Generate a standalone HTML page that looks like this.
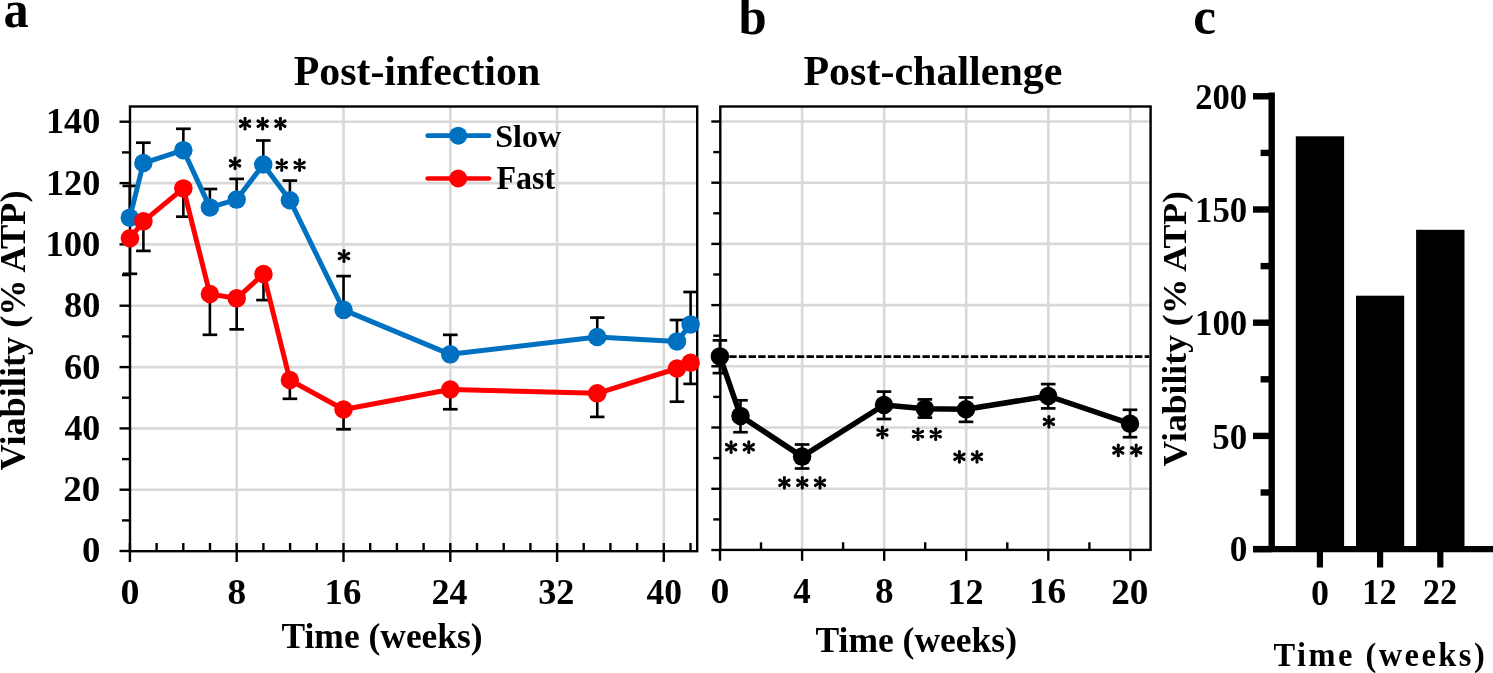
<!DOCTYPE html>
<html><head><meta charset="utf-8"><style>
html,body{margin:0;padding:0;background:#fff;width:1493px;height:673px;overflow:hidden}
svg{display:block;will-change:transform}
text{font-family:'Liberation Serif',serif;font-weight:bold;fill:#000}
</style></head><body>
<svg width="1493" height="673" viewBox="0 0 1493 673">
<defs><path id="ast" d="M1.000,0.000L1.600,-5.300A1.6,1.6 0 1 0 -1.600,-5.300L-1.000,-0.000ZM0.500,0.866L5.390,-1.264A1.6,1.6 0 1 0 3.790,-4.036L-0.500,-0.866ZM-0.500,0.866L3.790,4.036A1.6,1.6 0 1 0 5.390,1.264L0.500,-0.866ZM-1.000,0.000L-1.600,5.300A1.6,1.6 0 1 0 1.600,5.300L1.000,-0.000ZM-0.500,-0.866L-5.390,1.264A1.6,1.6 0 1 0 -3.790,4.036L0.500,0.866ZM0.500,-0.866L-3.790,-4.036A1.6,1.6 0 1 0 -5.390,-1.264L-0.500,0.866Z"/></defs>
<line x1="130" y1="489.7" x2="697.2" y2="489.7" stroke="#D9D9D9" stroke-width="2.6"/>
<line x1="130" y1="428.4" x2="697.2" y2="428.4" stroke="#D9D9D9" stroke-width="2.6"/>
<line x1="130" y1="367.1" x2="697.2" y2="367.1" stroke="#D9D9D9" stroke-width="2.6"/>
<line x1="130" y1="305.7" x2="697.2" y2="305.7" stroke="#D9D9D9" stroke-width="2.6"/>
<line x1="130" y1="244.4" x2="697.2" y2="244.4" stroke="#D9D9D9" stroke-width="2.6"/>
<line x1="130" y1="183.1" x2="697.2" y2="183.1" stroke="#D9D9D9" stroke-width="2.6"/>
<line x1="130" y1="121.7" x2="697.2" y2="121.7" stroke="#D9D9D9" stroke-width="2.6"/>
<line x1="236.7" y1="106.5" x2="236.7" y2="551.2" stroke="#D9D9D9" stroke-width="2.6"/>
<line x1="343.5" y1="106.5" x2="343.5" y2="551.2" stroke="#D9D9D9" stroke-width="2.6"/>
<line x1="450.3" y1="106.5" x2="450.3" y2="551.2" stroke="#D9D9D9" stroke-width="2.6"/>
<line x1="557.1" y1="106.5" x2="557.1" y2="551.2" stroke="#D9D9D9" stroke-width="2.6"/>
<line x1="663.8" y1="106.5" x2="663.8" y2="551.2" stroke="#D9D9D9" stroke-width="2.6"/>
<rect x="130" y="106.5" width="567.2" height="444.7" fill="none" stroke="#000" stroke-width="2.4"/>
<line x1="119.5" y1="551.0" x2="130" y2="551.0" stroke="#000" stroke-width="2.4"/>
<line x1="122" y1="520.4" x2="130" y2="520.4" stroke="#000" stroke-width="2.4"/>
<line x1="119.5" y1="489.7" x2="130" y2="489.7" stroke="#000" stroke-width="2.4"/>
<line x1="122" y1="459.1" x2="130" y2="459.1" stroke="#000" stroke-width="2.4"/>
<line x1="119.5" y1="428.4" x2="130" y2="428.4" stroke="#000" stroke-width="2.4"/>
<line x1="122" y1="397.7" x2="130" y2="397.7" stroke="#000" stroke-width="2.4"/>
<line x1="119.5" y1="367.1" x2="130" y2="367.1" stroke="#000" stroke-width="2.4"/>
<line x1="122" y1="336.4" x2="130" y2="336.4" stroke="#000" stroke-width="2.4"/>
<line x1="119.5" y1="305.7" x2="130" y2="305.7" stroke="#000" stroke-width="2.4"/>
<line x1="122" y1="275.1" x2="130" y2="275.1" stroke="#000" stroke-width="2.4"/>
<line x1="119.5" y1="244.4" x2="130" y2="244.4" stroke="#000" stroke-width="2.4"/>
<line x1="122" y1="213.7" x2="130" y2="213.7" stroke="#000" stroke-width="2.4"/>
<line x1="119.5" y1="183.1" x2="130" y2="183.1" stroke="#000" stroke-width="2.4"/>
<line x1="122" y1="152.4" x2="130" y2="152.4" stroke="#000" stroke-width="2.4"/>
<line x1="119.5" y1="121.7" x2="130" y2="121.7" stroke="#000" stroke-width="2.4"/>
<line x1="129.9" y1="543" x2="129.9" y2="562" stroke="#000" stroke-width="2.4"/>
<line x1="156.6" y1="543" x2="156.6" y2="551.2" stroke="#000" stroke-width="2.4"/>
<line x1="183.3" y1="543" x2="183.3" y2="551.2" stroke="#000" stroke-width="2.4"/>
<line x1="210.0" y1="543" x2="210.0" y2="551.2" stroke="#000" stroke-width="2.4"/>
<line x1="236.7" y1="543" x2="236.7" y2="562" stroke="#000" stroke-width="2.4"/>
<line x1="263.4" y1="543" x2="263.4" y2="551.2" stroke="#000" stroke-width="2.4"/>
<line x1="290.1" y1="543" x2="290.1" y2="551.2" stroke="#000" stroke-width="2.4"/>
<line x1="316.8" y1="543" x2="316.8" y2="551.2" stroke="#000" stroke-width="2.4"/>
<line x1="343.5" y1="543" x2="343.5" y2="562" stroke="#000" stroke-width="2.4"/>
<line x1="370.2" y1="543" x2="370.2" y2="551.2" stroke="#000" stroke-width="2.4"/>
<line x1="396.9" y1="543" x2="396.9" y2="551.2" stroke="#000" stroke-width="2.4"/>
<line x1="423.6" y1="543" x2="423.6" y2="551.2" stroke="#000" stroke-width="2.4"/>
<line x1="450.3" y1="543" x2="450.3" y2="562" stroke="#000" stroke-width="2.4"/>
<line x1="477.0" y1="543" x2="477.0" y2="551.2" stroke="#000" stroke-width="2.4"/>
<line x1="503.7" y1="543" x2="503.7" y2="551.2" stroke="#000" stroke-width="2.4"/>
<line x1="530.4" y1="543" x2="530.4" y2="551.2" stroke="#000" stroke-width="2.4"/>
<line x1="557.1" y1="543" x2="557.1" y2="562" stroke="#000" stroke-width="2.4"/>
<line x1="583.7" y1="543" x2="583.7" y2="551.2" stroke="#000" stroke-width="2.4"/>
<line x1="610.4" y1="543" x2="610.4" y2="551.2" stroke="#000" stroke-width="2.4"/>
<line x1="637.1" y1="543" x2="637.1" y2="551.2" stroke="#000" stroke-width="2.4"/>
<line x1="663.8" y1="543" x2="663.8" y2="562" stroke="#000" stroke-width="2.4"/>
<line x1="690.5" y1="543" x2="690.5" y2="551.2" stroke="#000" stroke-width="2.4"/>
<line x1="129.8" y1="217.7" x2="129.8" y2="185.9" stroke="#000" stroke-width="2.6"/>
<line x1="122.5" y1="185.9" x2="137.1" y2="185.9" stroke="#000" stroke-width="2.7"/>
<line x1="143.35" y1="163.05" x2="143.35" y2="142.7" stroke="#000" stroke-width="2.6"/>
<line x1="136.0" y1="142.7" x2="150.7" y2="142.7" stroke="#000" stroke-width="2.7"/>
<line x1="183.35" y1="150.15" x2="183.35" y2="128.8" stroke="#000" stroke-width="2.6"/>
<line x1="176.0" y1="128.8" x2="190.7" y2="128.8" stroke="#000" stroke-width="2.7"/>
<line x1="209.9" y1="207.4" x2="209.9" y2="189" stroke="#000" stroke-width="2.6"/>
<line x1="202.6" y1="189" x2="217.2" y2="189" stroke="#000" stroke-width="2.7"/>
<line x1="236.65" y1="199.6" x2="236.65" y2="178.9" stroke="#000" stroke-width="2.6"/>
<line x1="229.3" y1="178.9" x2="244.0" y2="178.9" stroke="#000" stroke-width="2.7"/>
<line x1="263.3" y1="164.6" x2="263.3" y2="140.5" stroke="#000" stroke-width="2.6"/>
<line x1="256.0" y1="140.5" x2="270.6" y2="140.5" stroke="#000" stroke-width="2.7"/>
<line x1="289.9" y1="200.2" x2="289.9" y2="180.6" stroke="#000" stroke-width="2.6"/>
<line x1="282.6" y1="180.6" x2="297.2" y2="180.6" stroke="#000" stroke-width="2.7"/>
<line x1="343.55" y1="309.85" x2="343.55" y2="276.1" stroke="#000" stroke-width="2.6"/>
<line x1="336.2" y1="276.1" x2="350.9" y2="276.1" stroke="#000" stroke-width="2.7"/>
<line x1="450.25" y1="354.35" x2="450.25" y2="334.85" stroke="#000" stroke-width="2.6"/>
<line x1="442.9" y1="334.85" x2="457.6" y2="334.85" stroke="#000" stroke-width="2.7"/>
<line x1="597.25" y1="337" x2="597.25" y2="317.6" stroke="#000" stroke-width="2.6"/>
<line x1="590.0" y1="317.6" x2="604.5" y2="317.6" stroke="#000" stroke-width="2.7"/>
<line x1="677" y1="341.4" x2="677" y2="320" stroke="#000" stroke-width="2.6"/>
<line x1="669.7" y1="320" x2="684.3" y2="320" stroke="#000" stroke-width="2.7"/>
<line x1="690.6" y1="324.4" x2="690.6" y2="292" stroke="#000" stroke-width="2.6"/>
<line x1="683.3" y1="292" x2="697.9" y2="292" stroke="#000" stroke-width="2.7"/>
<line x1="129.95" y1="238.25" x2="129.95" y2="273.8" stroke="#000" stroke-width="2.6"/>
<line x1="122.6" y1="273.8" x2="137.2" y2="273.8" stroke="#000" stroke-width="2.7"/>
<line x1="143.4" y1="221.35" x2="143.4" y2="250.9" stroke="#000" stroke-width="2.6"/>
<line x1="136.1" y1="250.9" x2="150.7" y2="250.9" stroke="#000" stroke-width="2.7"/>
<line x1="183.35" y1="188.4" x2="183.35" y2="216.7" stroke="#000" stroke-width="2.6"/>
<line x1="176.0" y1="216.7" x2="190.7" y2="216.7" stroke="#000" stroke-width="2.7"/>
<line x1="209.9" y1="294" x2="209.9" y2="334.8" stroke="#000" stroke-width="2.6"/>
<line x1="202.6" y1="334.8" x2="217.2" y2="334.8" stroke="#000" stroke-width="2.7"/>
<line x1="236.7" y1="298.35" x2="236.7" y2="329.35" stroke="#000" stroke-width="2.6"/>
<line x1="229.4" y1="329.35" x2="244.0" y2="329.35" stroke="#000" stroke-width="2.7"/>
<line x1="263.5" y1="274" x2="263.5" y2="300.1" stroke="#000" stroke-width="2.6"/>
<line x1="256.2" y1="300.1" x2="270.8" y2="300.1" stroke="#000" stroke-width="2.7"/>
<line x1="289.85" y1="379.95" x2="289.85" y2="398.8" stroke="#000" stroke-width="2.6"/>
<line x1="282.6" y1="398.8" x2="297.2" y2="398.8" stroke="#000" stroke-width="2.7"/>
<line x1="343.55" y1="409.55" x2="343.55" y2="429.3" stroke="#000" stroke-width="2.6"/>
<line x1="336.2" y1="429.3" x2="350.9" y2="429.3" stroke="#000" stroke-width="2.7"/>
<line x1="450.25" y1="389.45" x2="450.25" y2="409.25" stroke="#000" stroke-width="2.6"/>
<line x1="442.9" y1="409.25" x2="457.6" y2="409.25" stroke="#000" stroke-width="2.7"/>
<line x1="597.25" y1="393.35" x2="597.25" y2="416.9" stroke="#000" stroke-width="2.6"/>
<line x1="590.0" y1="416.9" x2="604.5" y2="416.9" stroke="#000" stroke-width="2.7"/>
<line x1="677" y1="368.5" x2="677" y2="401.7" stroke="#000" stroke-width="2.6"/>
<line x1="669.7" y1="401.7" x2="684.3" y2="401.7" stroke="#000" stroke-width="2.7"/>
<line x1="690.6" y1="362.7" x2="690.6" y2="383.9" stroke="#000" stroke-width="2.6"/>
<line x1="683.3" y1="383.9" x2="697.9" y2="383.9" stroke="#000" stroke-width="2.7"/>
<polyline points="129.8,217.7 143.35,163.05 183.35,150.15 209.9,207.4 236.65,199.6 263.3,164.6 289.9,200.2 343.55,309.85 450.25,354.35 597.25,337 677,341.4 690.6,324.4" fill="none" stroke="#0070C0" stroke-width="5" stroke-linejoin="round"/>
<circle cx="129.8" cy="217.7" r="9.25" fill="#0070C0"/>
<circle cx="143.35" cy="163.05" r="9.25" fill="#0070C0"/>
<circle cx="183.35" cy="150.15" r="9.25" fill="#0070C0"/>
<circle cx="209.9" cy="207.4" r="9.25" fill="#0070C0"/>
<circle cx="236.65" cy="199.6" r="9.25" fill="#0070C0"/>
<circle cx="263.3" cy="164.6" r="9.25" fill="#0070C0"/>
<circle cx="289.9" cy="200.2" r="9.25" fill="#0070C0"/>
<circle cx="343.55" cy="309.85" r="9.25" fill="#0070C0"/>
<circle cx="450.25" cy="354.35" r="9.25" fill="#0070C0"/>
<circle cx="597.25" cy="337" r="9.25" fill="#0070C0"/>
<circle cx="677" cy="341.4" r="9.25" fill="#0070C0"/>
<circle cx="690.6" cy="324.4" r="9.25" fill="#0070C0"/>
<polyline points="129.95,238.25 143.4,221.35 183.35,188.4 209.9,294 236.7,298.35 263.5,274 289.85,379.95 343.55,409.55 450.25,389.45 597.25,393.35 677,368.5 690.6,362.7" fill="none" stroke="#FF0000" stroke-width="5" stroke-linejoin="round"/>
<circle cx="129.95" cy="238.25" r="9.25" fill="#FF0000"/>
<circle cx="143.4" cy="221.35" r="9.25" fill="#FF0000"/>
<circle cx="183.35" cy="188.4" r="9.25" fill="#FF0000"/>
<circle cx="209.9" cy="294" r="9.25" fill="#FF0000"/>
<circle cx="236.7" cy="298.35" r="9.25" fill="#FF0000"/>
<circle cx="263.5" cy="274" r="9.25" fill="#FF0000"/>
<circle cx="289.85" cy="379.95" r="9.25" fill="#FF0000"/>
<circle cx="343.55" cy="409.55" r="9.25" fill="#FF0000"/>
<circle cx="450.25" cy="389.45" r="9.25" fill="#FF0000"/>
<circle cx="597.25" cy="393.35" r="9.25" fill="#FF0000"/>
<circle cx="677" cy="368.5" r="9.25" fill="#FF0000"/>
<circle cx="690.6" cy="362.7" r="9.25" fill="#FF0000"/>
<line x1="427.7" y1="135.7" x2="489" y2="135.7" stroke="#0070C0" stroke-width="4.7" stroke-linecap="round"/>
<circle cx="458.2" cy="135.7" r="9.0" fill="#0070C0"/>
<line x1="427.7" y1="178.5" x2="489" y2="178.5" stroke="#FF0000" stroke-width="4.7" stroke-linecap="round"/>
<circle cx="458.2" cy="178.5" r="9.0" fill="#FF0000"/>
<use href="#ast" transform="translate(245.05,123.65) scale(1.0)"/>
<use href="#ast" transform="translate(262.65,123.65) scale(1.0)"/>
<use href="#ast" transform="translate(280.4,123.65) scale(1.0)"/>
<use href="#ast" transform="translate(235.05,163.3) scale(1.0)"/>
<use href="#ast" transform="translate(281.75,165.05) scale(1.0)"/>
<use href="#ast" transform="translate(299.6,165.05) scale(1.0)"/>
<use href="#ast" transform="translate(344.0,256.0) scale(1.0)"/>
<line x1="720.3" y1="488.8" x2="1150.6" y2="488.8" stroke="#D9D9D9" stroke-width="2.6"/>
<line x1="720.3" y1="427.5" x2="1150.6" y2="427.5" stroke="#D9D9D9" stroke-width="2.6"/>
<line x1="720.3" y1="366.3" x2="1150.6" y2="366.3" stroke="#D9D9D9" stroke-width="2.6"/>
<line x1="720.3" y1="305.1" x2="1150.6" y2="305.1" stroke="#D9D9D9" stroke-width="2.6"/>
<line x1="720.3" y1="243.9" x2="1150.6" y2="243.9" stroke="#D9D9D9" stroke-width="2.6"/>
<line x1="720.3" y1="182.7" x2="1150.6" y2="182.7" stroke="#D9D9D9" stroke-width="2.6"/>
<line x1="720.3" y1="121.5" x2="1150.6" y2="121.5" stroke="#D9D9D9" stroke-width="2.6"/>
<line x1="802.1" y1="106.5" x2="802.1" y2="549.9" stroke="#D9D9D9" stroke-width="2.6"/>
<line x1="884.2" y1="106.5" x2="884.2" y2="549.9" stroke="#D9D9D9" stroke-width="2.6"/>
<line x1="966.2" y1="106.5" x2="966.2" y2="549.9" stroke="#D9D9D9" stroke-width="2.6"/>
<line x1="1048.3" y1="106.5" x2="1048.3" y2="549.9" stroke="#D9D9D9" stroke-width="2.6"/>
<line x1="1130.4" y1="106.5" x2="1130.4" y2="549.9" stroke="#D9D9D9" stroke-width="2.6"/>
<rect x="720.3" y="106.5" width="430.3" height="443.4" fill="none" stroke="#000" stroke-width="2.4"/>
<line x1="711.3" y1="550.0" x2="720.3" y2="550.0" stroke="#000" stroke-width="2.4"/>
<line x1="713.3" y1="519.4" x2="720.3" y2="519.4" stroke="#000" stroke-width="2.4"/>
<line x1="711.3" y1="488.8" x2="720.3" y2="488.8" stroke="#000" stroke-width="2.4"/>
<line x1="713.3" y1="458.1" x2="720.3" y2="458.1" stroke="#000" stroke-width="2.4"/>
<line x1="711.3" y1="427.5" x2="720.3" y2="427.5" stroke="#000" stroke-width="2.4"/>
<line x1="713.3" y1="396.9" x2="720.3" y2="396.9" stroke="#000" stroke-width="2.4"/>
<line x1="711.3" y1="366.3" x2="720.3" y2="366.3" stroke="#000" stroke-width="2.4"/>
<line x1="713.3" y1="335.7" x2="720.3" y2="335.7" stroke="#000" stroke-width="2.4"/>
<line x1="711.3" y1="305.1" x2="720.3" y2="305.1" stroke="#000" stroke-width="2.4"/>
<line x1="713.3" y1="274.5" x2="720.3" y2="274.5" stroke="#000" stroke-width="2.4"/>
<line x1="711.3" y1="243.9" x2="720.3" y2="243.9" stroke="#000" stroke-width="2.4"/>
<line x1="713.3" y1="213.3" x2="720.3" y2="213.3" stroke="#000" stroke-width="2.4"/>
<line x1="711.3" y1="182.7" x2="720.3" y2="182.7" stroke="#000" stroke-width="2.4"/>
<line x1="713.3" y1="152.1" x2="720.3" y2="152.1" stroke="#000" stroke-width="2.4"/>
<line x1="711.3" y1="121.5" x2="720.3" y2="121.5" stroke="#000" stroke-width="2.4"/>
<line x1="720.0" y1="549.9" x2="720.0" y2="560.8" stroke="#000" stroke-width="2.4"/>
<line x1="761.0" y1="542.3" x2="761.0" y2="549.9" stroke="#000" stroke-width="2.4"/>
<line x1="802.1" y1="549.9" x2="802.1" y2="560.8" stroke="#000" stroke-width="2.4"/>
<line x1="843.1" y1="542.3" x2="843.1" y2="549.9" stroke="#000" stroke-width="2.4"/>
<line x1="884.2" y1="549.9" x2="884.2" y2="560.8" stroke="#000" stroke-width="2.4"/>
<line x1="925.2" y1="542.3" x2="925.2" y2="549.9" stroke="#000" stroke-width="2.4"/>
<line x1="966.2" y1="549.9" x2="966.2" y2="560.8" stroke="#000" stroke-width="2.4"/>
<line x1="1007.3" y1="542.3" x2="1007.3" y2="549.9" stroke="#000" stroke-width="2.4"/>
<line x1="1048.3" y1="549.9" x2="1048.3" y2="560.8" stroke="#000" stroke-width="2.4"/>
<line x1="1089.4" y1="542.3" x2="1089.4" y2="549.9" stroke="#000" stroke-width="2.4"/>
<line x1="1130.4" y1="549.9" x2="1130.4" y2="560.8" stroke="#000" stroke-width="2.4"/>
<line x1="719.6" y1="356.6" x2="1149.3" y2="356.6" stroke="#000" stroke-width="2.6" stroke-dasharray="7.4,2.26"/>
<line x1="719.9" y1="340.4" x2="719.9" y2="373.1" stroke="#000" stroke-width="2.6"/>
<line x1="712.6" y1="340.4" x2="727.2" y2="340.4" stroke="#000" stroke-width="2.7"/>
<line x1="712.6" y1="373.1" x2="727.2" y2="373.1" stroke="#000" stroke-width="2.7"/>
<line x1="740.5" y1="400.3" x2="740.5" y2="432.2" stroke="#000" stroke-width="2.6"/>
<line x1="733.2" y1="400.3" x2="747.8" y2="400.3" stroke="#000" stroke-width="2.7"/>
<line x1="733.2" y1="432.2" x2="747.8" y2="432.2" stroke="#000" stroke-width="2.7"/>
<line x1="802.1" y1="444.5" x2="802.1" y2="468.5" stroke="#000" stroke-width="2.6"/>
<line x1="794.8" y1="444.5" x2="809.4" y2="444.5" stroke="#000" stroke-width="2.7"/>
<line x1="794.8" y1="468.5" x2="809.4" y2="468.5" stroke="#000" stroke-width="2.7"/>
<line x1="884" y1="391.6" x2="884" y2="419" stroke="#000" stroke-width="2.6"/>
<line x1="876.7" y1="391.6" x2="891.3" y2="391.6" stroke="#000" stroke-width="2.7"/>
<line x1="876.7" y1="419" x2="891.3" y2="419" stroke="#000" stroke-width="2.7"/>
<line x1="924.9" y1="399.4" x2="924.9" y2="417.6" stroke="#000" stroke-width="2.6"/>
<line x1="917.6" y1="399.4" x2="932.2" y2="399.4" stroke="#000" stroke-width="2.7"/>
<line x1="917.6" y1="417.6" x2="932.2" y2="417.6" stroke="#000" stroke-width="2.7"/>
<line x1="966" y1="397.5" x2="966" y2="421.85" stroke="#000" stroke-width="2.6"/>
<line x1="958.7" y1="397.5" x2="973.3" y2="397.5" stroke="#000" stroke-width="2.7"/>
<line x1="958.7" y1="421.85" x2="973.3" y2="421.85" stroke="#000" stroke-width="2.7"/>
<line x1="1048.2" y1="384.1" x2="1048.2" y2="408.4" stroke="#000" stroke-width="2.6"/>
<line x1="1040.9" y1="384.1" x2="1055.5" y2="384.1" stroke="#000" stroke-width="2.7"/>
<line x1="1040.9" y1="408.4" x2="1055.5" y2="408.4" stroke="#000" stroke-width="2.7"/>
<line x1="1130" y1="409.8" x2="1130" y2="437.2" stroke="#000" stroke-width="2.6"/>
<line x1="1122.7" y1="409.8" x2="1137.3" y2="409.8" stroke="#000" stroke-width="2.7"/>
<line x1="1122.7" y1="437.2" x2="1137.3" y2="437.2" stroke="#000" stroke-width="2.7"/>
<polyline points="719.9,356.4 740.5,415.9 802.1,456.6 884,405 924.9,408.75 966,409.3 1048.2,396 1130,423.7" fill="none" stroke="#000" stroke-width="5.5" stroke-linejoin="round"/>
<circle cx="719.9" cy="356.4" r="9.25" fill="#000"/>
<circle cx="740.5" cy="415.9" r="9.25" fill="#000"/>
<circle cx="802.1" cy="456.6" r="9.25" fill="#000"/>
<circle cx="884" cy="405" r="9.25" fill="#000"/>
<circle cx="924.9" cy="408.75" r="9.25" fill="#000"/>
<circle cx="966" cy="409.3" r="9.25" fill="#000"/>
<circle cx="1048.2" cy="396" r="9.25" fill="#000"/>
<circle cx="1130" cy="423.7" r="9.25" fill="#000"/>
<use href="#ast" transform="translate(731.1,447.2) scale(1.0)"/>
<use href="#ast" transform="translate(748.8,447.2) scale(1.0)"/>
<use href="#ast" transform="translate(784.4,482.8) scale(1.0)"/>
<use href="#ast" transform="translate(802.3,482.8) scale(1.0)"/>
<use href="#ast" transform="translate(820.0,482.8) scale(1.0)"/>
<use href="#ast" transform="translate(882.4,432.5) scale(1.0)"/>
<use href="#ast" transform="translate(918.0,434.1) scale(1.0)"/>
<use href="#ast" transform="translate(935.7,434.1) scale(1.0)"/>
<use href="#ast" transform="translate(959.4,456.8) scale(1.0)"/>
<use href="#ast" transform="translate(977.0,456.8) scale(1.0)"/>
<use href="#ast" transform="translate(1048.9,421.8) scale(1.0)"/>
<use href="#ast" transform="translate(1118.3,450.4) scale(1.0)"/>
<use href="#ast" transform="translate(1136.2,450.4) scale(1.0)"/>
<line x1="1271.7" y1="92.4" x2="1271.7" y2="552" stroke="#000" stroke-width="6.4"/>
<line x1="1253" y1="549.1" x2="1493" y2="549.1" stroke="#000" stroke-width="6.2"/>
<line x1="1253" y1="549.1" x2="1271.7" y2="549.1" stroke="#000" stroke-width="6.4"/>
<line x1="1260.6" y1="492.5" x2="1271.7" y2="492.5" stroke="#000" stroke-width="6.4"/>
<line x1="1253" y1="435.9" x2="1271.7" y2="435.9" stroke="#000" stroke-width="6.4"/>
<line x1="1260.6" y1="379.3" x2="1271.7" y2="379.3" stroke="#000" stroke-width="6.4"/>
<line x1="1253" y1="322.7" x2="1271.7" y2="322.7" stroke="#000" stroke-width="6.4"/>
<line x1="1260.6" y1="266.1" x2="1271.7" y2="266.1" stroke="#000" stroke-width="6.4"/>
<line x1="1253" y1="209.5" x2="1271.7" y2="209.5" stroke="#000" stroke-width="6.4"/>
<line x1="1260.6" y1="152.9" x2="1271.7" y2="152.9" stroke="#000" stroke-width="6.4"/>
<line x1="1253" y1="96.3" x2="1271.7" y2="96.3" stroke="#000" stroke-width="6.4"/>
<rect x="1295.8" y="136.3" width="48.3" height="412.8" fill="#000"/>
<line x1="1319.9" y1="549" x2="1319.9" y2="567.5" stroke="#000" stroke-width="6.2"/>
<rect x="1356" y="295.7" width="48.2" height="253.4" fill="#000"/>
<line x1="1380.1" y1="549" x2="1380.1" y2="567.5" stroke="#000" stroke-width="6.2"/>
<rect x="1416.1" y="229.8" width="48.4" height="319.3" fill="#000"/>
<line x1="1440.3" y1="549" x2="1440.3" y2="567.5" stroke="#000" stroke-width="6.2"/>
<text transform="translate(3.39,26.68) scale(1.0066,1.0417)" font-size="50">a</text>
<text transform="translate(1193.21,34.38) scale(1.0234,1.0500)" font-size="50">c</text>
<text transform="translate(738.40,34.28) scale(1.015,1.046)" font-size="50">b</text>
<text transform="translate(293.65,84.70) scale(0.9972,1.0000)" font-size="42">Post-infection</text>
<text transform="translate(803.45,85.40) scale(1.0004,1.0000)" font-size="42">Post-challenge</text>
<text transform="translate(45.98,133.30) scale(1.0061,1.0190)" font-size="36">140</text>
<text transform="translate(45.98,194.60) scale(1.0061,1.0190)" font-size="36">120</text>
<text transform="translate(45.45,255.65) scale(1.0162,1.0190)" font-size="36">100</text>
<text transform="translate(64.04,317.00) scale(1.0075,1.0190)" font-size="36">80</text>
<text transform="translate(64.04,378.60) scale(1.0075,1.0190)" font-size="36">60</text>
<text transform="translate(64.40,439.70) scale(0.9971,1.0190)" font-size="36">40</text>
<text transform="translate(63.36,500.85) scale(1.0273,1.0190)" font-size="36">20</text>
<text transform="translate(81.97,562.30) scale(1.0200,1.0190)" font-size="36">0</text>
<text transform="translate(120.62,604.07) scale(1.0533,1.0210)" font-size="36">0</text>
<text transform="translate(227.50,603.97) scale(1.0387,1.0210)" font-size="36">8</text>
<text transform="translate(324.62,603.85) scale(1.0250,1.0210)" font-size="36">16</text>
<text transform="translate(431.50,603.97) scale(0.9985,1.0210)" font-size="36">24</text>
<text transform="translate(538.24,604.00) scale(1.0045,1.0210)" font-size="36">32</text>
<text transform="translate(646.51,603.82) scale(0.9853,1.0210)" font-size="36">40</text>
<text transform="translate(710.43,603.35) scale(1.0467,1.0190)" font-size="36">0</text>
<text transform="translate(793.31,602.85) scale(0.9731,1.0190)" font-size="36">4</text>
<text transform="translate(874.91,603.20) scale(1.0323,1.0190)" font-size="36">8</text>
<text transform="translate(947.48,603.55) scale(1.0063,1.0190)" font-size="36">12</text>
<text transform="translate(1029.00,603.42) scale(1.0344,1.0190)" font-size="36">16</text>
<text transform="translate(1111.15,603.55) scale(1.0333,1.0190)" font-size="36">20</text>
<text transform="translate(1195.22,108.80) scale(0.9889,1.0000)" font-size="35">200</text>
<text transform="translate(1195.07,221.65) scale(0.9918,1.0000)" font-size="35">150</text>
<text transform="translate(1195.07,335.30) scale(0.9918,1.0000)" font-size="35">100</text>
<text transform="translate(1212.31,449.05) scale(0.9953,1.0000)" font-size="35">50</text>
<text transform="translate(1229.84,561.20) scale(1.0067,1.0000)" font-size="35">0</text>
<text transform="translate(1311.02,604.57) scale(1.0267,1.0100)" font-size="35">0</text>
<text transform="translate(1362.32,604.44) scale(0.9756,1.0100)" font-size="35">12</text>
<text transform="translate(1422.73,604.44) scale(0.9812,1.0100)" font-size="35">22</text>
<text transform="translate(281.51,647.80) scale(0.9849,1.0000)" font-size="36">Time (weeks)</text>
<text transform="translate(815.51,651.60) scale(0.9864,1.0000)" font-size="36">Time (weeks)</text>
<text transform="translate(1273.42,665.80) scale(0.9540,1.0000)" font-size="34" letter-spacing="2.6">Time (weeks)</text>
<text transform="translate(24.50,470.40) rotate(-90) scale(1.0072,0.9900)" font-size="36">Viability (% ATP)</text>
<text transform="translate(1185.60,466.40) rotate(-90) scale(0.9902,0.9500)" font-size="36">Viability (% ATP)</text>
<text transform="translate(495.15,146.55) scale(1.0024,0.9911)" font-size="32">Slow</text>
<text transform="translate(496.40,188.54) scale(1.0000,1.0259)" font-size="32">Fast</text>
</svg>
</body></html>
